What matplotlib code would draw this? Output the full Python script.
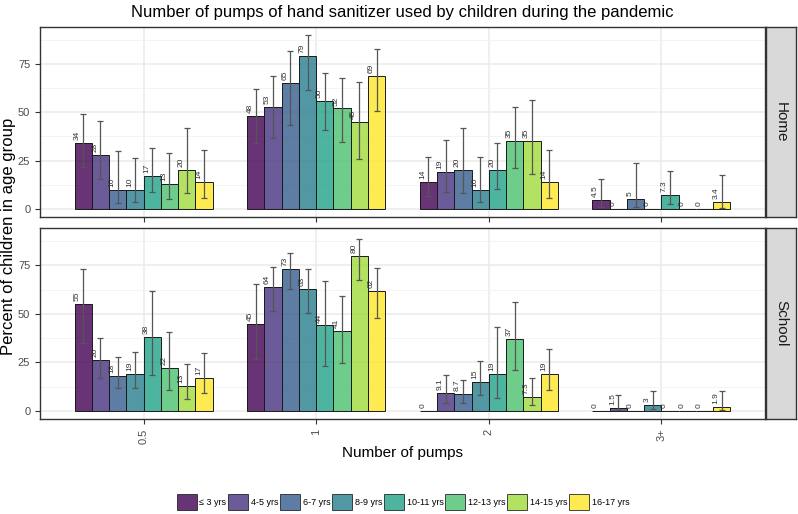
import numpy as np
import matplotlib.pyplot as plt
from matplotlib.patches import Patch

plt.rcParams['font.family'] = ['Liberation Sans', 'DejaVu Sans']

ages = ['≤ 3 yrs', '4-5 yrs', '6-7 yrs', '8-9 yrs', '10-11 yrs', '12-13 yrs', '14-15 yrs', '16-17 yrs']
pumps = ['0.5', '1', '2', '3+']
settings = ['Home', 'School']

nan = np.nan
# percent of children, one row per pump category, one column per age group
home_pct = [[34, 28, 10, 10, 17, 13, 20, 14],
            [48, 53, 65, 79, 56, 52, 45, 69],
            [14, 19, 20, 10, 20, 35, 35, 14],
            [4.5, 0, 5, 0, 7.3, 0, 0, 3.4]]
home_lo = [[21.8, 15.7, 3.1, 3.6, 8.6, 5.2, 8.1, 5.7],
           [33.9, 36.5, 43.4, 61.4, 41.1, 34.9, 25.8, 50.8],
           [6.7, 8.9, 8.1, 3.6, 10.3, 21.0, 18.2, 5.5],
           [0.8, nan, 0.9, nan, 2.7, nan, nan, 0.6]]
home_hi = [[48.9, 45.4, 30.1, 26.5, 31.3, 28.9, 41.7, 30.6],
           [62.1, 69.0, 81.9, 90.0, 70.2, 68.0, 65.9, 82.6],
           [26.8, 35.5, 41.7, 26.7, 34.1, 53.0, 56.6, 30.6],
           [15.3, nan, 23.6, nan, 19.5, nan, nan, 17.4]]

school_pct = [[55, 26, 18, 19, 38, 22, 13, 17],
              [45, 64, 73, 63, 44, 41, 80, 62],
              [0, 9.1, 8.7, 15, 19, 37, 7.3, 19],
              [0, 1.5, 0, 3, 0, 0, 0, 1.9]]
school_lo = [[34.8, 16.8, 11.7, 11.6, 18.3, 10.6, 6.2, 9.3],
             [26.8, 51.6, 62.9, 50.6, 23.0, 24.4, 67.6, 47.8],
             [nan, 4.1, 4.3, 8.3, 6.4, 21.3, 2.8, 10.6],
             [nan, 0.3, nan, 0.8, nan, nan, nan, 0.3]]
school_hi = [[73.3, 37.6, 27.5, 30.5, 61.5, 40.7, 23.9, 29.6],
             [65.5, 74.1, 81.1, 73.1, 66.8, 59.3, 88.5, 73.6],
             [nan, 18.3, 15.9, 25.5, 43.1, 55.9, 17.1, 32.0],
             [nan, 8.0, nan, 10.4, nan, nan, nan, 10.2]]

colors = plt.cm.viridis(np.linspace(0, 1, len(ages)))

fig = plt.figure(figsize=(7.98, 5.14), dpi=100)
W, H = 798, 514


def px_axes(x0, y0, x1, y1):
    return fig.add_axes([x0 / W, 1 - y1 / H, (x1 - x0) / W, (y1 - y0) / H])


panels = [(settings[0], home_pct, home_lo, home_hi, 27, 217),
          (settings[1], school_pct, school_lo, school_hi, 228, 419)]

bw = 0.1
x = np.arange(1, len(pumps) + 1)
for name, pct, lo, hi, ytop, ybot in panels:
    ax = px_axes(40, ytop, 765, ybot)
    pct = np.array(pct, dtype=float)
    lo = np.array(lo, dtype=float)
    hi = np.array(hi, dtype=float)
    for i, age in enumerate(ages):
        xs = x - 0.35 + i * bw
        ax.bar(xs, pct[:, i], width=bw, color=colors[i], alpha=0.8,
               edgecolor='none', zorder=2)
        ax.bar(xs, pct[:, i], width=bw, facecolor='none',
               edgecolor='#1a1a1a', linewidth=0.7, zorder=3)
        err = np.vstack([pct[:, i] - lo[:, i], hi[:, i] - pct[:, i]])
        ax.errorbar(xs, pct[:, i], yerr=err, fmt='none', ecolor='#555555',
                    elinewidth=0.9, capsize=2.2, capthick=0.9, zorder=4)
        for xv, v in zip(xs, pct[:, i]):
            ax.text(xv - 0.012, v + 1.5, f'{v:g}', rotation=90,
                    rotation_mode='anchor', ha='left', va='bottom',
                    fontsize=6, color='#333333', zorder=5)
    ax.set_xlim(0.4, 4.6)
    ax.set_ylim(-4.2, 94.2)
    ax.set_yticks([0, 25, 50, 75])
    ax.set_yticks([12.5, 37.5, 62.5, 87.5], minor=True)
    ax.set_xticks(x)
    ax.tick_params(axis='x', which='minor', bottom=False)
    ax.grid(True, which='major', color='#EBEBEB', linewidth=1.1, zorder=0)
    ax.grid(True, which='minor', axis='y', color='#F2F2F2', linewidth=0.6, zorder=0)
    ax.set_axisbelow(True)
    ax.tick_params(axis='both', which='major', length=3.5, width=0.8,
                   color='#333333', labelcolor='#4D4D4D', labelsize=8)
    ax.tick_params(axis='y', which='minor', left=False)
    for s in ax.spines.values():
        s.set_color('#333333')
        s.set_linewidth(1.0)
    if name == 'Home':
        ax.set_xticklabels([])
    else:
        ax.set_xticklabels(pumps, rotation=90)

    strip = px_axes(766, ytop, 796, ybot)
    strip.set_facecolor('#D9D9D9')
    strip.set_xticks([])
    strip.set_yticks([])
    for s in strip.spines.values():
        s.set_color('#333333')
        s.set_linewidth(1.0)
    strip.text(0.5, 0.5, name, rotation=-90, ha='center', va='center',
               fontsize=11, color='#1A1A1A', transform=strip.transAxes)

fig.text(402 / W, 1 - 12 / H, 'Number of pumps of hand sanitizer used by children during the pandemic',
         ha='center', va='center', fontsize=12)
fig.text(402 / W, 1 - 453 / H, 'Number of pumps', ha='center', va='center', fontsize=11)
fig.text(9 / W, 1 - 236 / H, 'Percent of children in age group', rotation=90,
         ha='center', va='center', fontsize=12)

handles = [Patch(facecolor=colors[i], alpha=0.8, edgecolor='#1a1a1a', linewidth=0.7)
           for i in range(len(ages))]
fig.legend(handles, ages, loc='center', bbox_to_anchor=(403 / W, 1 - 502 / H),
           ncol=len(ages), frameon=False, fontsize=6.5, handlelength=2.2,
           handleheight=2.5, handletextpad=0.3, columnspacing=0.2)

fig.savefig('out.png', dpi=100)
